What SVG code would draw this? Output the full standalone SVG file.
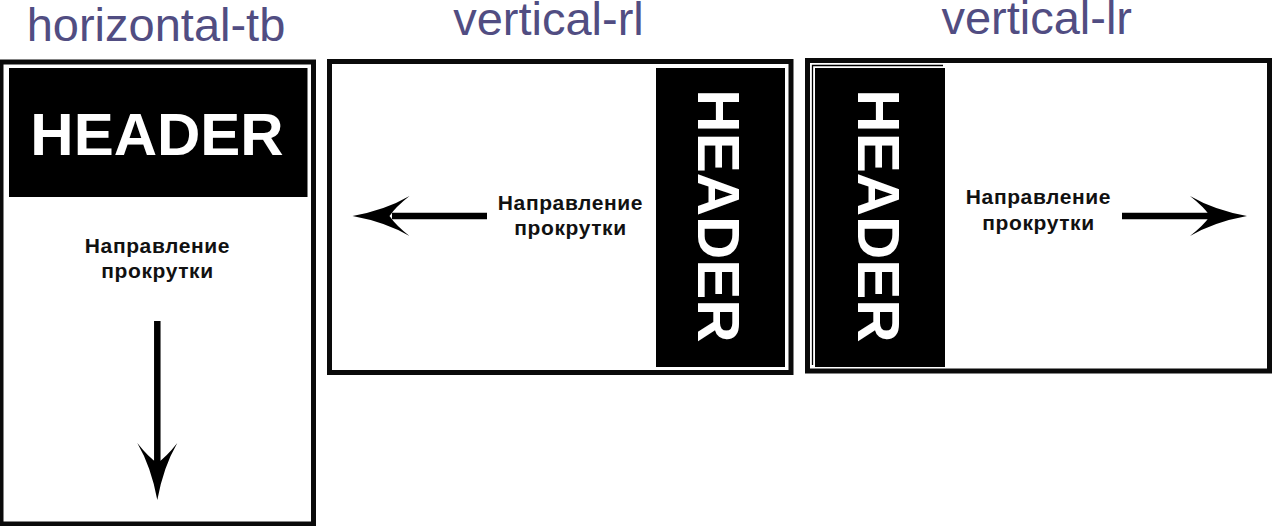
<svg xmlns="http://www.w3.org/2000/svg" width="1272" height="526" viewBox="0 0 1272 526">
<style>
.title{font-family:"Liberation Sans",Arial,sans-serif;font-size:47px;fill:#514d82;text-anchor:middle}
.frame{fill:#fff;stroke:#0a0a0a;stroke-width:5}
.hdr{fill:#000}
.hdrtext{font-family:"Liberation Sans",Arial,sans-serif;font-weight:bold;font-size:60px;fill:#fff;text-anchor:middle}
.lbl{font-family:"Liberation Sans",Arial,sans-serif;font-weight:bold;font-size:21px;letter-spacing:0.6px;fill:#111;text-anchor:middle}
.shaft{stroke:#000;stroke-width:6.5;fill:none}
.head{fill:#000}
</style>
<defs>
<path id="ah" d="M0 0 Q-6 -33 -20 -57 Q-9 -43 0 -37 Q9 -43 20 -57 Q6 -33 0 0 Z"/>
</defs>
<rect width="1272" height="526" fill="#fff"/>
<g id="node-horizontal-tb">
<text class="title" x="156" y="41">horizontal-tb</text>
<rect class="frame" x="1" y="62" width="312.5" height="462"/>
<rect class="hdr" x="9" y="68" width="298.5" height="129"/>
<text class="hdrtext" x="157" y="155">HEADER</text>
<text class="lbl" x="157.5" y="253">Направление</text>
<text class="lbl" x="157.5" y="278">прокрутки</text>
</g>
<g id="node-vertical-rl">
<text class="title" x="548.5" y="35">vertical-rl</text>
<rect class="frame" x="329.5" y="61.5" width="461.5" height="311"/>
<rect class="hdr" x="656" y="68" width="129" height="299"/>
<text class="hdrtext" transform="translate(698 216) rotate(90)" x="0" y="0">HEADER</text>
<text class="lbl" x="570.5" y="210">Направление</text>
<text class="lbl" x="570.5" y="235">прокрутки</text>
</g>
<g id="node-vertical-lr">
<text class="title" x="1036.7" y="33.5">vertical-lr</text>
<rect class="frame" x="807.5" y="60.5" width="462" height="310.5"/>
<path d="M812.5 365 V65.5 H943" fill="none" stroke="#000" stroke-width="1.3"/>
<rect class="hdr" x="815" y="68" width="130" height="299"/>
<text class="hdrtext" transform="translate(858 216) rotate(90)" x="0" y="0">HEADER</text>
<text class="lbl" x="1038.5" y="204">Направление</text>
<text class="lbl" x="1038.5" y="230">прокрутки</text>
</g>
<g id="connectors">
<line class="shaft" x1="157.3" y1="321" x2="157.3" y2="466"/>
<use href="#ah" class="head" transform="translate(157.3 500)"/>
<line class="shaft" x1="487" y1="216" x2="392" y2="216"/>
<use href="#ah" class="head" transform="translate(352.5 216) rotate(90)"/>
<line class="shaft" x1="1122" y1="216" x2="1210" y2="216"/>
<use href="#ah" class="head" transform="translate(1247 216) rotate(-90)"/>
</g>
</svg>
